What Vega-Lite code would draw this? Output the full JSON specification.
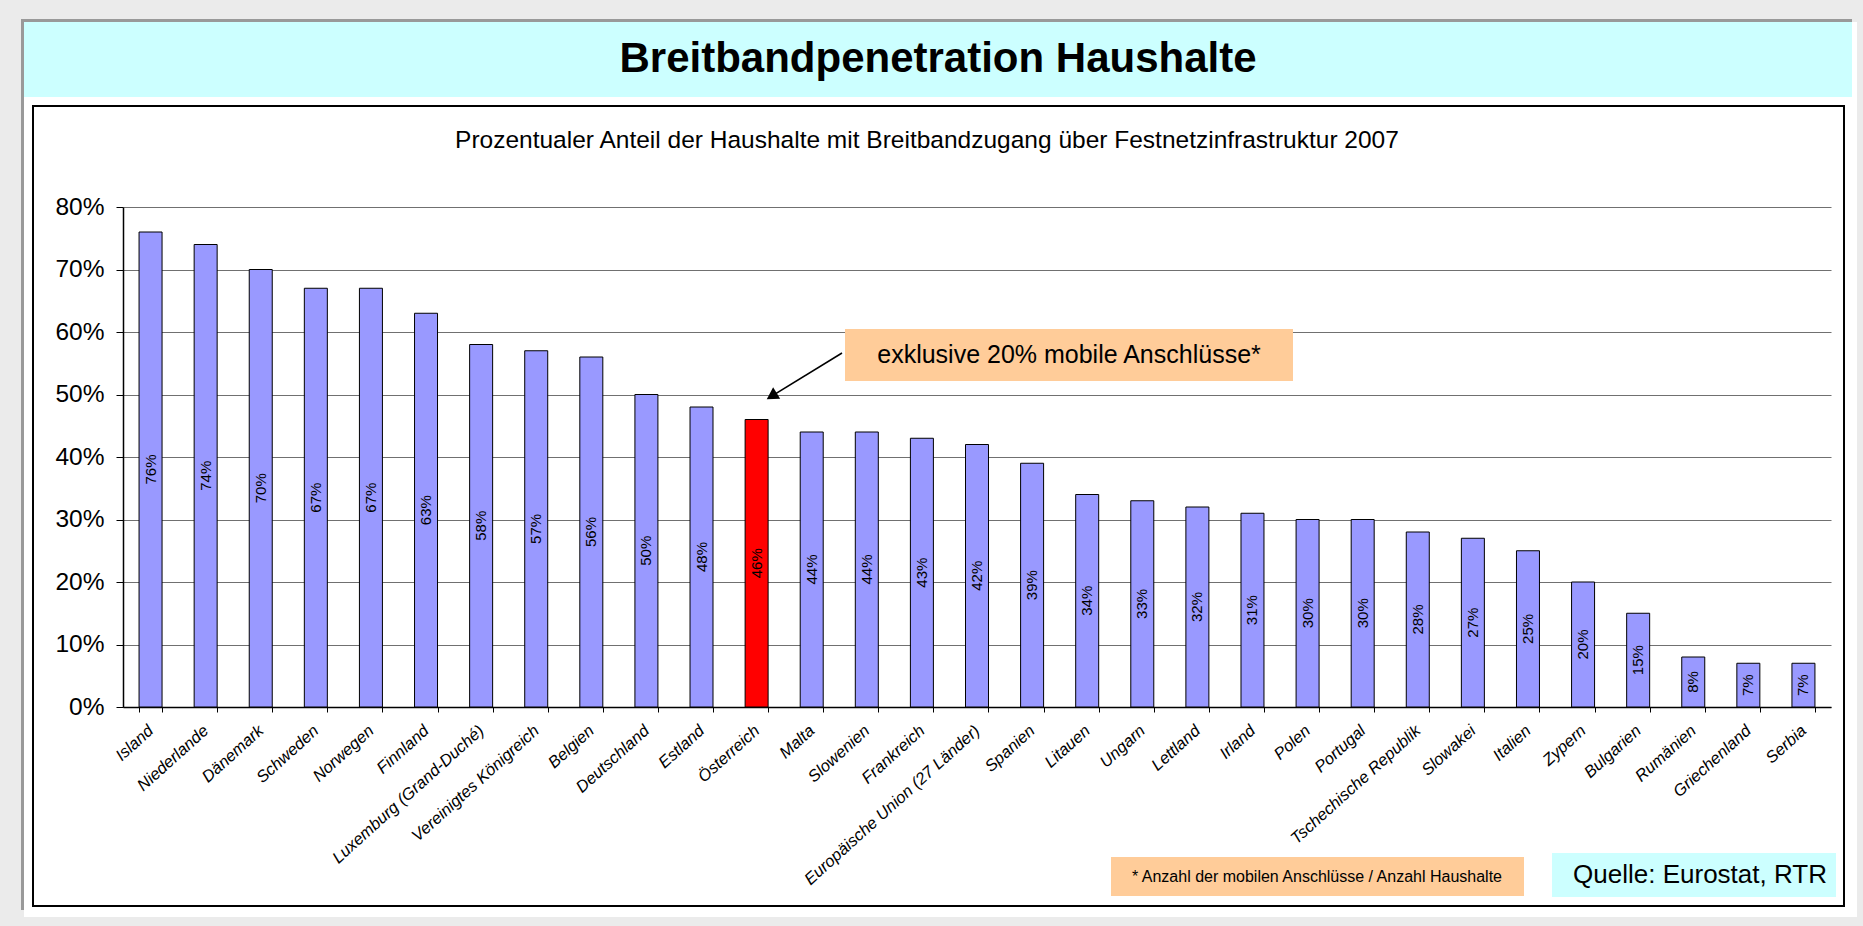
{
  "$schema": "https://vega.github.io/schema/vega-lite/v6.json",
  "width": 1708,
  "height": 500,
  "autosize": "none",
  "padding": {"left": 123, "top": 207, "right": 32, "bottom": 219},
  "background": "white",
  "config": {"view": {"stroke": null}, "font": "Liberation Sans"},
  "datasets": {
    "laender": [
      {"land": "Island", "v": 0.76},
      {"land": "Niederlande", "v": 0.74},
      {"land": "Dänemark", "v": 0.70},
      {"land": "Schweden", "v": 0.67},
      {"land": "Norwegen", "v": 0.67},
      {"land": "Finnland", "v": 0.63},
      {"land": "Luxemburg (Grand-Duché)", "v": 0.58},
      {"land": "Vereinigtes Königreich", "v": 0.57},
      {"land": "Belgien", "v": 0.56},
      {"land": "Deutschland", "v": 0.50},
      {"land": "Estland", "v": 0.48},
      {"land": "Österreich", "v": 0.46},
      {"land": "Malta", "v": 0.44},
      {"land": "Slowenien", "v": 0.44},
      {"land": "Frankreich", "v": 0.43},
      {"land": "Europäische Union  (27 Länder)", "v": 0.42},
      {"land": "Spanien", "v": 0.39},
      {"land": "Litauen", "v": 0.34},
      {"land": "Ungarn", "v": 0.33},
      {"land": "Lettland", "v": 0.32},
      {"land": "Irland", "v": 0.31},
      {"land": "Polen", "v": 0.30},
      {"land": "Portugal", "v": 0.30},
      {"land": "Tschechische Republik", "v": 0.28},
      {"land": "Slowakei", "v": 0.27},
      {"land": "Italien", "v": 0.25},
      {"land": "Zypern", "v": 0.20},
      {"land": "Bulgarien", "v": 0.15},
      {"land": "Rumänien", "v": 0.08},
      {"land": "Griechenland", "v": 0.07},
      {"land": "Serbia", "v": 0.07}
    ],
    "eins": [{"id": 1}]
  },
  "resolve": {"scale": {"x": "independent"}, "axis": {"x": "independent", "y": "shared"}},
  "layer": [
    {
      "data": {"name": "laender"},
      "mark": {"type": "bar", "stroke": "#000", "strokeWidth": 1},
      "encoding": {
        "x": {
          "field": "land", "type": "nominal", "sort": null,
          "scale": {"paddingInner": 0.5826, "paddingOuter": 0.2913},
          "axis": {
            "title": null, "orient": "bottom", "labelAngle": -42, "labelFont": "Liberation Sans", "labelFontStyle": "italic",
            "labelFontSize": 16.5, "labelColor": "#000", "tickBand": "extent", "tickSize": 5, "labelLimit": 0,
            "tickColor": "#000", "domainColor": "#000", "domainWidth": 1.5, "labelPadding": 16,
            "labelOverlap": false, "labelAlign": "right", "labelBaseline": "middle", "grid": false
          }
        },
        "y": {
          "field": "v", "type": "quantitative", "title": null,
          "scale": {"domain": [0, 0.8], "nice": false, "zero": false},
          "axis": {
            "title": null, "format": ".0%", "values": [0, 0.1, 0.2, 0.3, 0.4, 0.5, 0.6, 0.7, 0.8],
            "grid": true, "gridColor": "#707070", "gridWidth": 1.2, "tickSize": 7, "tickColor": "#000",
            "domainColor": "#000", "domainWidth": 1.5, "labelFontSize": 24.5, "labelColor": "#000",
            "labelPadding": 12, "labelFont": "Liberation Sans"
          }
        },
        "color": {
          "condition": {"test": "datum.land === 'Österreich'", "value": "#ff0000"},
          "value": "#9999ff"
        }
      }
    },
    {
      "data": {"name": "laender"},
      "transform": [{"calculate": "datum.v / 2", "as": "mid"}],
      "mark": {"type": "text", "angle": 270, "align": "center", "baseline": "middle", "fontSize": 15, "font": "Liberation Sans", "color": "#000"},
      "encoding": {
        "x": {"field": "land", "type": "nominal", "sort": null, "scale": {"paddingInner": 0.5826, "paddingOuter": 0.2913}, "axis": null},
        "y": {"field": "mid", "type": "quantitative", "title": null},
        "text": {"field": "v", "type": "quantitative", "format": ".0%"}
      }
    },
    {
      "data": {"name": "eins"},
      "mark": {"type": "rect", "color": "#ebebeb"},
      "encoding": {
        "x": {"datum": -0.08, "type": "quantitative", "scale": {"domain": [0, 1], "nice": false, "zero": false}, "axis": null},
        "x2": {"datum": 1.03},
        "y": {"datum": 1.15, "type": "quantitative", "title": null},
        "y2": {"datum": 1.0960}
      }
    },
    {
      "data": {"name": "eins"},
      "mark": {"type": "rect", "color": "#ebebeb"},
      "encoding": {
        "x": {"datum": -0.08, "type": "quantitative", "scale": {"domain": [0, 1], "nice": false, "zero": false}, "axis": null},
        "x2": {"datum": -0.05796},
        "y": {"datum": 1.15, "type": "quantitative", "title": null},
        "y2": {"datum": -0.36}
      }
    },
    {
      "data": {"name": "eins"},
      "mark": {"type": "rect", "color": "#ebebeb"},
      "encoding": {
        "x": {"datum": 1.01522, "type": "quantitative", "scale": {"domain": [0, 1], "nice": false, "zero": false}, "axis": null},
        "x2": {"datum": 1.03},
        "y": {"datum": 1.15, "type": "quantitative", "title": null},
        "y2": {"datum": -0.36}
      }
    },
    {
      "data": {"name": "eins"},
      "mark": {"type": "rect", "color": "#ebebeb"},
      "encoding": {
        "x": {"datum": -0.08, "type": "quantitative", "scale": {"domain": [0, 1], "nice": false, "zero": false}, "axis": null},
        "x2": {"datum": 1.03},
        "y": {"datum": -0.336, "type": "quantitative", "title": null},
        "y2": {"datum": -0.36}
      }
    },
    {
      "data": {"name": "eins"},
      "mark": {"type": "rect", "color": "#999999"},
      "encoding": {
        "x": {"datum": -0.05972, "type": "quantitative", "scale": {"domain": [0, 1], "nice": false, "zero": false}, "axis": null},
        "x2": {"datum": 1.0123},
        "y": {"datum": 1.1008, "type": "quantitative", "title": null},
        "y2": {"datum": 1.096}
      }
    },
    {
      "data": {"name": "eins"},
      "mark": {"type": "rect", "color": "#999999"},
      "encoding": {
        "x": {"datum": -0.05972, "type": "quantitative", "scale": {"domain": [0, 1], "nice": false, "zero": false}, "axis": null},
        "x2": {"datum": -0.05796},
        "y": {"datum": 1.1008, "type": "quantitative", "title": null},
        "y2": {"datum": -0.3248}
      }
    },
    {
      "data": {"name": "eins"},
      "mark": {"type": "rect", "color": "#ccffff"},
      "encoding": {
        "x": {"datum": -0.05796, "type": "quantitative", "scale": {"domain": [0, 1], "nice": false, "zero": false}, "axis": null},
        "x2": {"datum": 1.0123},
        "y": {"datum": 1.096, "type": "quantitative", "title": null},
        "y2": {"datum": 0.976}
      }
    },
    {
      "data": {"name": "eins"},
      "mark": {"type": "text", "font": "Liberation Sans", "fontSize": 42, "fontWeight": "bold", "align": "center", "baseline": "middle", "color": "#000", "text": "Breitbandpenetration Haushalte"},
      "encoding": {
        "x": {"datum": 0.47717, "type": "quantitative", "scale": {"domain": [0, 1], "nice": false, "zero": false}, "axis": null},
        "y": {"datum": 1.0368, "type": "quantitative", "title": null}
      }
    },
    {
      "data": {"name": "eins"},
      "mark": {"type": "text", "font": "Liberation Sans", "fontSize": 24.5, "align": "center", "baseline": "middle", "color": "#000", "text": "Prozentualer Anteil der Haushalte mit Breitbandzugang über Festnetzinfrastruktur 2007"},
      "encoding": {
        "x": {"datum": 0.4707, "type": "quantitative", "scale": {"domain": [0, 1], "nice": false, "zero": false}, "axis": null},
        "y": {"datum": 0.9056, "type": "quantitative", "title": null}
      }
    },
    {
      "data": {"name": "eins"},
      "mark": {"type": "rect", "fillOpacity": 0, "stroke": "#000", "strokeWidth": 2},
      "encoding": {
        "x": {"datum": -0.05269, "type": "quantitative", "scale": {"domain": [0, 1], "nice": false, "zero": false}, "axis": null},
        "x2": {"datum": 1.00761},
        "y": {"datum": 0.9616, "type": "quantitative", "title": null},
        "y2": {"datum": -0.3184}
      }
    },
    {
      "data": {"name": "eins"},
      "mark": {"type": "rect", "color": "#ffcc99"},
      "encoding": {
        "x": {"datum": 0.42272, "type": "quantitative", "scale": {"domain": [0, 1], "nice": false, "zero": false}, "axis": null},
        "x2": {"datum": 0.68501},
        "y": {"datum": 0.6048, "type": "quantitative", "title": null},
        "y2": {"datum": 0.5216}
      }
    },
    {
      "data": {"name": "eins"},
      "mark": {"type": "text", "font": "Liberation Sans", "fontSize": 25, "align": "center", "baseline": "middle", "color": "#000", "text": "exklusive 20% mobile Anschlüsse*"},
      "encoding": {
        "x": {"datum": 0.55386, "type": "quantitative", "scale": {"domain": [0, 1], "nice": false, "zero": false}, "axis": null},
        "y": {"datum": 0.5632, "type": "quantitative", "title": null}
      }
    },
    {
      "data": {"name": "eins"},
      "mark": {"type": "rule", "color": "#000", "strokeWidth": 1.6},
      "encoding": {
        "x": {"datum": 0.42096, "type": "quantitative", "scale": {"domain": [0, 1], "nice": false, "zero": false}, "axis": null},
        "x2": {"datum": 0.3798},
        "y": {"datum": 0.5664, "type": "quantitative", "title": null},
        "y2": {"datum": 0.49744}
      }
    },
    {
      "data": {"name": "eins"},
      "mark": {"type": "point", "shape": "triangle-up", "filled": true, "color": "#000", "size": 180, "angle": 238.4, "opacity": 1},
      "encoding": {
        "x": {"datum": 0.3798, "type": "quantitative", "scale": {"domain": [0, 1], "nice": false, "zero": false}, "axis": null},
        "y": {"datum": 0.49744, "type": "quantitative", "title": null}
      }
    },
    {
      "data": {"name": "eins"},
      "mark": {"type": "rect", "color": "#ffcc99"},
      "encoding": {
        "x": {"datum": 0.57845, "type": "quantitative", "scale": {"domain": [0, 1], "nice": false, "zero": false}, "axis": null},
        "x2": {"datum": 0.82026},
        "y": {"datum": -0.24, "type": "quantitative", "title": null},
        "y2": {"datum": -0.3024}
      }
    },
    {
      "data": {"name": "eins"},
      "mark": {"type": "text", "font": "Liberation Sans", "fontSize": 16, "align": "center", "baseline": "middle", "color": "#000", "text": "* Anzahl der mobilen Anschlüsse / Anzahl Haushalte"},
      "encoding": {
        "x": {"datum": 0.69906, "type": "quantitative", "scale": {"domain": [0, 1], "nice": false, "zero": false}, "axis": null},
        "y": {"datum": -0.272, "type": "quantitative", "title": null}
      }
    },
    {
      "data": {"name": "eins"},
      "mark": {"type": "rect", "color": "#ccffff"},
      "encoding": {
        "x": {"datum": 0.83665, "type": "quantitative", "scale": {"domain": [0, 1], "nice": false, "zero": false}, "axis": null},
        "x2": {"datum": 1.00293},
        "y": {"datum": -0.2336, "type": "quantitative", "title": null},
        "y2": {"datum": -0.304}
      }
    },
    {
      "data": {"name": "eins"},
      "mark": {"type": "text", "font": "Liberation Sans", "fontSize": 26, "align": "center", "baseline": "middle", "color": "#000", "text": "Quelle: Eurostat, RTR"},
      "encoding": {
        "x": {"datum": 0.9233, "type": "quantitative", "scale": {"domain": [0, 1], "nice": false, "zero": false}, "axis": null},
        "y": {"datum": -0.2688, "type": "quantitative", "title": null}
      }
    }
  ]
}
